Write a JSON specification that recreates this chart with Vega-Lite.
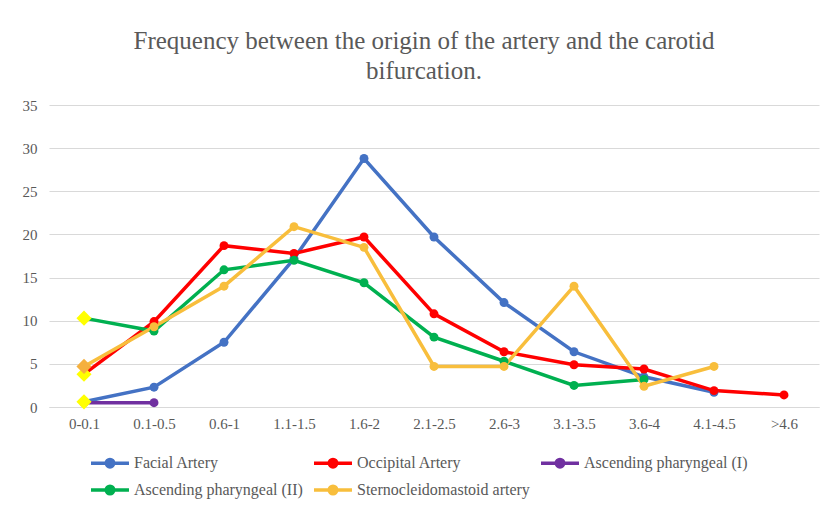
{
  "$schema": "https://vega.github.io/schema/vega-lite/v6.json",
  "width": 770,
  "height": 302,
  "autosize": {"type": "none"},
  "padding": {"left": 49, "top": 105, "right": 10, "bottom": 103},
  "background": "white",
  "title": {
    "text": ["Frequency between the origin of the artery and the carotid", "bifurcation."],
    "font": "Liberation Serif",
    "fontSize": 25,
    "fontWeight": "normal",
    "color": "#595959",
    "anchor": "middle",
    "lineHeight": 30,
    "offset": 14,
    "dx": -10
  },
  "config": {
    "view": {"stroke": null}
  },
  "data": {
    "values": [
      {"series": "Facial Artery", "cat": "0-0.1", "v": 0.6},
      {"series": "Facial Artery", "cat": "0.1-0.5", "v": 2.3},
      {"series": "Facial Artery", "cat": "0.6-1", "v": 7.5},
      {"series": "Facial Artery", "cat": "1.1-1.5", "v": 17.2},
      {"series": "Facial Artery", "cat": "1.6-2", "v": 28.8},
      {"series": "Facial Artery", "cat": "2.1-2.5", "v": 19.7},
      {"series": "Facial Artery", "cat": "2.6-3", "v": 12.1},
      {"series": "Facial Artery", "cat": "3.1-3.5", "v": 6.4},
      {"series": "Facial Artery", "cat": "3.6-4", "v": 3.5},
      {"series": "Facial Artery", "cat": "4.1-4.5", "v": 1.7},
      {"series": "Occipital Artery", "cat": "0-0.1", "v": 3.8},
      {"series": "Occipital Artery", "cat": "0.1-0.5", "v": 9.9},
      {"series": "Occipital Artery", "cat": "0.6-1", "v": 18.7},
      {"series": "Occipital Artery", "cat": "1.1-1.5", "v": 17.8},
      {"series": "Occipital Artery", "cat": "1.6-2", "v": 19.7},
      {"series": "Occipital Artery", "cat": "2.1-2.5", "v": 10.8},
      {"series": "Occipital Artery", "cat": "2.6-3", "v": 6.4},
      {"series": "Occipital Artery", "cat": "3.1-3.5", "v": 4.9},
      {"series": "Occipital Artery", "cat": "3.6-4", "v": 4.4},
      {"series": "Occipital Artery", "cat": "4.1-4.5", "v": 1.9},
      {"series": "Occipital Artery", "cat": ">4.6", "v": 1.4},
      {"series": "Ascending pharyngeal (I)", "cat": "0-0.1", "v": 0.5},
      {"series": "Ascending pharyngeal (I)", "cat": "0.1-0.5", "v": 0.5},
      {"series": "Ascending pharyngeal (II)", "cat": "0-0.1", "v": 10.3},
      {"series": "Ascending pharyngeal (II)", "cat": "0.1-0.5", "v": 8.8},
      {"series": "Ascending pharyngeal (II)", "cat": "0.6-1", "v": 15.9},
      {"series": "Ascending pharyngeal (II)", "cat": "1.1-1.5", "v": 17.0},
      {"series": "Ascending pharyngeal (II)", "cat": "1.6-2", "v": 14.4},
      {"series": "Ascending pharyngeal (II)", "cat": "2.1-2.5", "v": 8.1},
      {"series": "Ascending pharyngeal (II)", "cat": "2.6-3", "v": 5.3},
      {"series": "Ascending pharyngeal (II)", "cat": "3.1-3.5", "v": 2.5},
      {"series": "Ascending pharyngeal (II)", "cat": "3.6-4", "v": 3.2},
      {"series": "Sternocleidomastoid artery", "cat": "0-0.1", "v": 4.7},
      {"series": "Sternocleidomastoid artery", "cat": "0.1-0.5", "v": 9.3},
      {"series": "Sternocleidomastoid artery", "cat": "0.6-1", "v": 14.0},
      {"series": "Sternocleidomastoid artery", "cat": "1.1-1.5", "v": 20.9},
      {"series": "Sternocleidomastoid artery", "cat": "1.6-2", "v": 18.5},
      {"series": "Sternocleidomastoid artery", "cat": "2.1-2.5", "v": 4.7},
      {"series": "Sternocleidomastoid artery", "cat": "2.6-3", "v": 4.7},
      {"series": "Sternocleidomastoid artery", "cat": "3.1-3.5", "v": 14.0},
      {"series": "Sternocleidomastoid artery", "cat": "3.6-4", "v": 2.4},
      {"series": "Sternocleidomastoid artery", "cat": "4.1-4.5", "v": 4.7}
    ]
  },
  "encoding": {
    "x": {
      "field": "cat",
      "type": "ordinal",
      "sort": ["0-0.1", "0.1-0.5", "0.6-1", "1.1-1.5", "1.6-2", "2.1-2.5", "2.6-3", "3.1-3.5", "3.6-4", "4.1-4.5", ">4.6"],
      "scale": {"type": "point", "padding": 0.5},
      "axis": {
        "title": null,
        "labelAngle": 0,
        "labelFont": "Liberation Serif",
        "labelFontSize": 15,
        "labelColor": "#595959",
        "labelPadding": 9,
        "domainColor": "#D9D9D9",
        "domainWidth": 1,
        "ticks": false,
        "grid": false
      }
    },
    "y": {
      "field": "v",
      "type": "quantitative",
      "scale": {"domain": [0, 35], "nice": false, "zero": true},
      "axis": {
        "title": null,
        "values": [0, 5, 10, 15, 20, 25, 30, 35],
        "labelFont": "Liberation Serif",
        "labelFontSize": 15,
        "labelColor": "#595959",
        "labelPadding": 12,
        "domain": false,
        "ticks": false,
        "gridColor": "#D9D9D9",
        "gridWidth": 1
      }
    }
  },
  "layer": [
    {
      "mark": {"type": "line", "strokeWidth": 3.5, "point": {"size": 80, "filled": true, "opacity": 1}},
      "encoding": {
        "color": {
          "field": "series",
          "type": "nominal",
          "sort": ["Facial Artery", "Occipital Artery", "Ascending pharyngeal (I)", "Ascending pharyngeal (II)", "Sternocleidomastoid artery"],
          "scale": {
            "domain": ["Facial Artery", "Occipital Artery", "Ascending pharyngeal (I)", "Ascending pharyngeal (II)", "Sternocleidomastoid artery"],
            "range": ["#4472C4", "#FF0000", "#7030A0", "#00B050", "#F8BE3C"]
          },
          "legend": {
            "title": null,
            "orient": "none",
            "legendX": 40,
            "legendY": 350,
            "columns": 3,
            "direction": "horizontal",
            "symbolType": "M-1,0H5.33M2.79,0A0.625,0.625,0,1,1,1.54,0A0.625,0.625,0,1,1,2.79,0Z",
            "symbolSize": 144,
            "symbolStrokeWidth": 3.5,
            "labelFont": "Liberation Serif",
            "labelFontSize": 16,
            "labelColor": "#595959",
            "labelOffset": 29,
            "labelLimit": 300,
            "rowPadding": 5,
            "columnPadding": 4,
            "encode": {
              "symbols": {"update": {"fill": {"scale": "color", "field": "value"}, "opacity": {"value": 1}}}
            }
          }
        }
      }
    },
    {
      "transform": [{"filter": "datum.cat == '0-0.1' && (datum.series == 'Facial Artery' || datum.series == 'Occipital Artery' || datum.series == 'Ascending pharyngeal (II)')"}],
      "mark": {"type": "point", "shape": "diamond", "size": 230, "filled": true, "color": "#FFFF00", "opacity": 1}
    },
    {
      "transform": [{"filter": "datum.cat == '0-0.1' && datum.series == 'Sternocleidomastoid artery'"}],
      "mark": {"type": "point", "shape": "diamond", "size": 230, "filled": true, "color": "#F5B03E", "opacity": 1}
    }
  ]
}
